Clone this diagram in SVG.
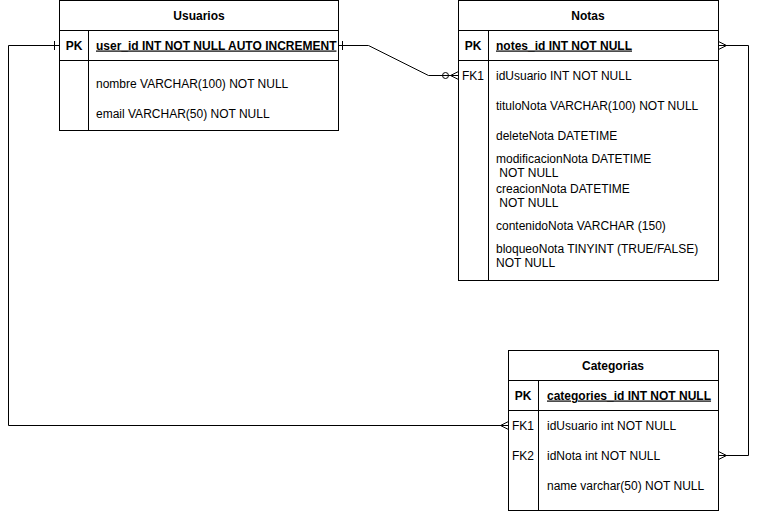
<svg xmlns="http://www.w3.org/2000/svg" width="758" height="511" viewBox="0 0 758 511">
<style>
  .box{fill:#fff;stroke:#000;stroke-width:1}
  .ln{fill:none;stroke:#000;stroke-width:1}
  text{font-family:"Liberation Sans",Arial,sans-serif;font-size:12px;fill:#000}
  .h{font-weight:bold;text-anchor:middle}
  .k{text-anchor:middle}
  .pk{font-weight:bold;text-decoration:underline}
  .c{fill:none;stroke:#000;stroke-width:1}
</style>
<rect width="758" height="511" fill="#fff"/>
<g id="connectors">
  <!-- Usuarios PK -> Notas FK1 -->
  <path class="c" d="M338.5,45.5 H368.5 L428.5,75.5 H458.5"/>
  <path class="c" d="M342.5,41 V50"/>
  <circle class="c" cx="445.5" cy="75.5" r="3"/>
  <path class="c" d="M458.5,71.5 L450.5,75.5 L458.5,79.5"/>
  <!-- Usuarios PK -> Categorias FK1 -->
  <path class="c" d="M59.5,45.5 H8.5 V425.5 H508.5"/>
  <path class="c" d="M54.5,41 V50"/>
  <path class="c" d="M508.5,421.5 L500.5,425.5 L508.5,429.5"/>
  <!-- Notas PK -> Categorias FK2 -->
  <path class="c" d="M718.5,45.5 H748.5 V455.5 H718.5"/>
  <path class="c" d="M718.5,41.5 L726.5,45.5 L718.5,49.5"/>
  <path class="c" d="M718.5,451.5 L726.5,455.5 L718.5,459.5"/>
</g>
<g id="usuarios">
  <rect class="box" x="59.5" y="0.5" width="279" height="130"/>
  <path class="ln" d="M59.5,30.5 H338.5 M59.5,60.5 H338.5 M88.5,30.5 V130.5"/>
  <text class="h" x="199" y="20">Usuarios</text>
  <text class="h" x="74" y="49.5">PK</text>
  <text class="pk" x="96" y="49.5">user_id INT NOT NULL AUTO INCREMENT</text>
  <text x="96" y="87.5">nombre VARCHAR(100) NOT NULL</text>
  <text x="96" y="117.5">email VARCHAR(50) NOT NULL</text>
</g>
<g id="notas">
  <rect class="box" x="458.5" y="0.5" width="260" height="280"/>
  <path class="ln" d="M458.5,30.5 H718.5 M458.5,60.5 H718.5 M488.5,30.5 V280.5"/>
  <text class="h" x="588" y="20">Notas</text>
  <text class="h" x="473" y="49.5">PK</text>
  <text class="pk" x="496" y="49.5">notes_id INT NOT NULL</text>
  <text class="k" x="473" y="79.5">FK1</text>
  <text x="496" y="79.5">idUsuario INT NOT NULL</text>
  <text x="496" y="109.5">tituloNota VARCHAR(100) NOT NULL</text>
  <text x="496" y="139.5">deleteNota DATETIME</text>
  <text x="496" y="162.5">modificacionNota DATETIME</text>
  <text x="496" y="177" xml:space="preserve"> NOT NULL</text>
  <text x="496" y="192.5">creacionNota DATETIME</text>
  <text x="496" y="207" xml:space="preserve"> NOT NULL</text>
  <text x="496" y="229.5">contenidoNota VARCHAR (150)</text>
  <text x="496" y="252.5">bloqueoNota TINYINT (TRUE/FALSE)</text>
  <text x="496" y="267">NOT NULL</text>
</g>
<g id="categorias">
  <rect class="box" x="508.5" y="350.5" width="210" height="160"/>
  <path class="ln" d="M508.5,380.5 H718.5 M508.5,410.5 H718.5 M538.5,380.5 V510.5"/>
  <text class="h" x="613" y="370">Categorias</text>
  <text class="h" x="523" y="399.5">PK</text>
  <text class="pk" x="547" y="399.5">categories_id INT NOT NULL</text>
  <text class="k" x="523" y="429.5">FK1</text>
  <text x="547" y="429.5">idUsuario int NOT NULL</text>
  <text class="k" x="523" y="459.5">FK2</text>
  <text x="547" y="459.5">idNota int NOT NULL</text>
  <text x="547" y="489.5">name varchar(50) NOT NULL</text>
</g>
</svg>
